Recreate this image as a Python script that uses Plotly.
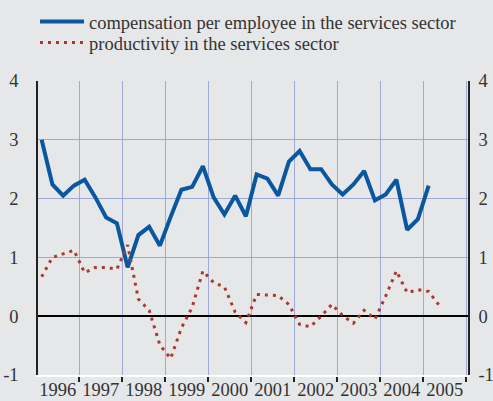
import plotly.graph_objects as go

# Quarterly data, 1996Q1 onward
years = list(range(1996, 2006))
comp_quarters = [f"{y}Q{q}" for y in range(1996, 2005) for q in range(1, 5)] + ["2005Q1"]
compensation = [3.00, 2.24, 2.05, 2.22,
                2.32, 2.02, 1.68, 1.58,
                0.83, 1.38, 1.52, 1.20,
                1.69, 2.15, 2.20, 2.55,
                2.02, 1.73, 2.05, 1.70,
                2.41, 2.34, 2.05, 2.63,
                2.81, 2.50, 2.50, 2.24,
                2.07, 2.24, 2.47, 1.97,
                2.07, 2.32, 1.47, 1.65,
                2.22]
prod_quarters = comp_quarters + ["2005Q2"]
productivity = [0.67, 1.00, 1.06, 1.12,
                0.74, 0.83, 0.83, 0.80,
                1.21, 0.29, 0.10, -0.49,
                -0.72, -0.20, 0.15, 0.77,
                0.57, 0.50, 0.07, -0.11,
                0.37, 0.36, 0.35, 0.20,
                -0.14, -0.18, 0.00, 0.20,
                0.01, -0.12, 0.10, -0.05,
                0.34, 0.77, 0.40, 0.45,
                0.42, 0.18]
y_ticks = [-1, 0, 1, 2, 3, 4]
y_tick_text = ["-1", "0", "1", "2", "3", "4"]


def qpos(label):
    y, q = label.split("Q")
    return int(y) + (int(q) - 0.5) / 4


FONT = "Liberation Serif, Times New Roman, DejaVu Serif, serif"
FS = 18.5
BG = "#e6e7e9"
GRID = "#9eaad8"
TXT = "#333333"

fig = go.Figure()
fig.add_trace(go.Scatter(
    x=[qpos(q) for q in comp_quarters], y=compensation, mode="lines",
    name="compensation per employee in the services sector", legend="legend",
    line=dict(color="#0b579f", width=4)))
fig.add_trace(go.Scatter(
    x=[qpos(q) for q in prod_quarters], y=productivity, mode="lines",
    name="productivity in the services sector", legend="legend2",
    line=dict(color="#b0362c", width=3, dash="3px,5px")))
# mirror axis for right-side labels
fig.add_trace(go.Scatter(x=[qpos(comp_quarters[0])], y=[compensation[0]], yaxis="y2",
                         mode="lines", showlegend=False, hoverinfo="skip",
                         line=dict(width=0)))

leg_common = dict(xref="container", yref="container", xanchor="left", yanchor="middle",
                  bgcolor="rgba(0,0,0,0)", font=dict(size=FS, family=FONT, color=TXT),
                  itemwidth=44, borderwidth=0)

fig.update_layout(
    width=493, height=401,
    paper_bgcolor=BG, plot_bgcolor=BG,
    margin=dict(l=38, r=25, t=81, b=26, autoexpand=False),
    font=dict(family=FONT, size=FS, color=TXT),
    showlegend=True,
    legend=dict(x=35 / 493, y=1 - 22 / 401, **leg_common),
    legend2=dict(x=35 / 493, y=1 - 43 / 401, **leg_common),
    xaxis=dict(range=[1996.04, 2006.04], automargin=False,
               tickvals=[y + 0.5 for y in years], ticktext=[str(y) for y in years],
               ticks="", showgrid=False, zeroline=False,
               showline=True, linecolor="white", linewidth=2,
               minor=dict(tickvals=list(range(1997, 2007)), ticks="outside", ticklen=5,
                          tickcolor="#222", tickwidth=1.5,
                          showgrid=True, gridcolor=GRID, gridwidth=1),
               tickfont=dict(size=FS, family=FONT, color=TXT), ticklabelstandoff=-3),
    yaxis=dict(range=[-1, 4], tickvals=y_ticks, ticktext=y_tick_text, ticks="",
               showgrid=True, gridcolor=GRID, gridwidth=1, automargin=False,
               zeroline=True, zerolinecolor="black", zerolinewidth=1.5,
               showline=True, linecolor="#222", linewidth=1.5,
               tickfont=dict(size=FS, family=FONT, color=TXT), ticklabelstandoff=14),
    yaxis2=dict(range=[-1, 4], tickvals=y_ticks, ticktext=y_tick_text, overlaying="y",
                side="right", automargin=False,
                showgrid=False, zeroline=False, showline=True, linecolor="#222",
                linewidth=1.5, ticks="", tickfont=dict(size=FS, family=FONT, color=TXT),
                ticklabelstandoff=5),
)

fig.write_html("out.html", config={"displayModeBar": False},
               post_script="document.body.style.margin='0';document.body.style.overflow='hidden';")
